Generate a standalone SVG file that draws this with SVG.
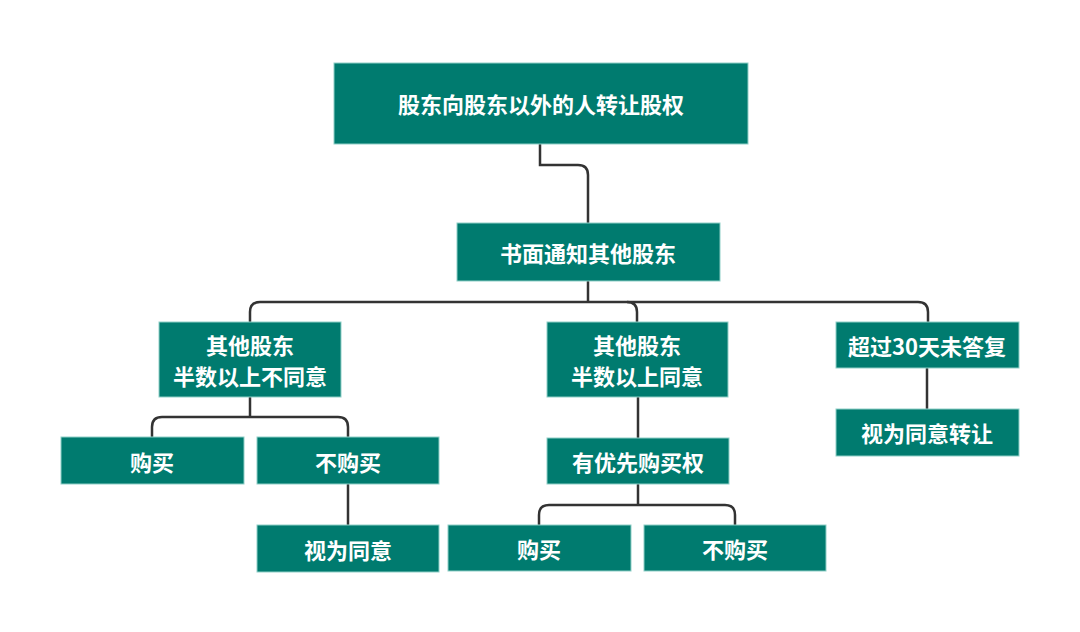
<svg xmlns="http://www.w3.org/2000/svg" width="1080" height="632" viewBox="0 0 1080 632">
<style>
.box{fill:#007B6F;stroke:#8fcfc7;stroke-width:1}
.t{fill:#ffffff;font-family:"Noto Sans CJK SC","Noto Sans",sans-serif;font-weight:700;font-size:22px;text-anchor:middle;dominant-baseline:central}
.c{fill:none;stroke:#333333;stroke-width:2.5}
</style>
<rect width="1080" height="632" fill="#ffffff"/>
<g id="connectors">
<path class="c" d="M540 144 V165 H578 Q588 165 588 175 V223"/>
<path class="c" d="M588 281 V302"/>
<path class="c" d="M250 322 V312 Q250 302 260 302 H918 Q928 302 928 312 V322"/>
<path class="c" d="M627 302 Q637 302 637 312 V322"/>
<path class="c" d="M250 397 V417"/>
<path class="c" d="M152 437 V427 Q152 417 162 417 H338 Q348 417 348 427 V437"/>
<path class="c" d="M348 484 V525"/>
<path class="c" d="M638 397 V438"/>
<path class="c" d="M638 484 V505"/>
<path class="c" d="M539 525 V515 Q539 505 549 505 H725 Q735 505 735 515 V525"/>
<path class="c" d="M927 368 V409"/>
</g>
<g id="n-root"><rect class="box" x="334" y="63" width="414" height="81"/><text class="t" x="541" y="103">股东向股东以外的人转让股权</text></g>
<g id="n-notify"><rect class="box" x="457" y="223" width="263" height="58"/><text class="t" x="588" y="252">书面通知其他股东</text></g>
<g id="n-disagree"><rect class="box" x="159" y="322" width="182" height="75"/><text class="t" x="250" y="344">其他股东</text><text class="t" x="250" y="375">半数以上不同意</text></g>
<g id="n-agree"><rect class="box" x="547" y="322" width="181" height="75"/><text class="t" x="637" y="344">其他股东</text><text class="t" x="637" y="375">半数以上同意</text></g>
<g id="n-30days"><rect class="box" x="836" y="322" width="183" height="46"/><text class="t" x="927" y="345">超过30天未答复</text></g>
<g id="n-deemed-transfer"><rect class="box" x="836" y="409" width="183" height="47"/><text class="t" x="927" y="432">视为同意转让</text></g>
<g id="n-buy1"><rect class="box" x="61" y="437" width="183" height="47"/><text class="t" x="152" y="461">购买</text></g>
<g id="n-nobuy1"><rect class="box" x="257" y="437" width="182" height="47"/><text class="t" x="348" y="461">不购买</text></g>
<g id="n-deemed"><rect class="box" x="257" y="525" width="182" height="47"/><text class="t" x="348" y="549">视为同意</text></g>
<g id="n-priority"><rect class="box" x="547" y="438" width="182" height="46"/><text class="t" x="638" y="461">有优先购买权</text></g>
<g id="n-buy2"><rect class="box" x="448" y="525" width="183" height="46"/><text class="t" x="539" y="548">购买</text></g>
<g id="n-nobuy2"><rect class="box" x="644" y="525" width="182" height="46"/><text class="t" x="735" y="548">不购买</text></g>
</svg>
